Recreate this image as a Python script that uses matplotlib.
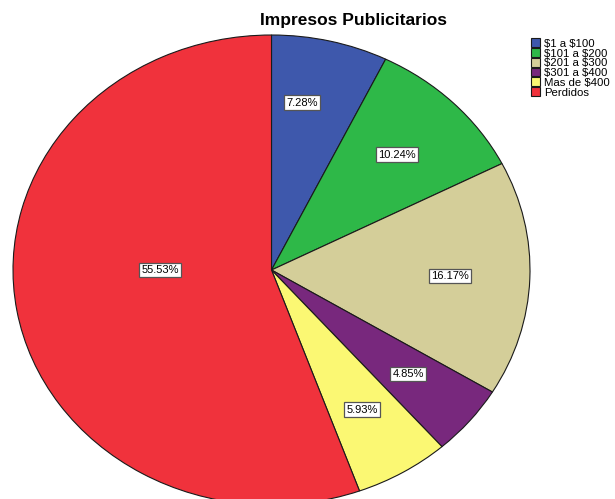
import numpy as np
import matplotlib
matplotlib.use('Agg')
import matplotlib.pyplot as plt

categories = ['$1 a $100', '$101 a $200', '$201 a $300', '$301 a $400',
              'Mas de $400', 'Perdidos']
percents = [7.28, 10.24, 16.17, 4.85, 5.93, 55.53]
colors = ['#3E58AC', '#2EB848', '#D4CE99', '#78287D', '#FBF873', '#F0323C']

W, H = 615, 499
plt.rcParams['font.family'] = ['Liberation Sans', 'DejaVu Sans']
plt.rcParams['text.parse_math'] = False

fig = plt.figure(figsize=(W / 100, H / 100), dpi=100)
ax = fig.add_axes([0, 0, 1, 1])

wedges, texts, autotexts = ax.pie(
    percents, colors=colors, startangle=90, counterclock=False,
    radius=1.0, autopct='%.2f%%', pctdistance=0.69,
    wedgeprops=dict(edgecolor='#1a1a1a', linewidth=0.8),
    textprops=dict(fontsize=8, color='black'),
)

for t in autotexts:
    t.set_bbox(dict(boxstyle='square,pad=0.2', fc='white',
                    ec='#555555', lw=0.9))
# small top slice label sits a bit higher, the largest slice label is pulled in
x0, y0 = autotexts[0].get_position()
autotexts[0].set_position((x0 * 0.75, y0 * 1.06))
autotexts[-1].set_position((-0.43, 0.0))

# pie is drawn stretched: centre (271.5, 270) px, radii 258.5 x 235 px
cx, cy, rx, ry = 271.5, 270.0, 258.5, 235.0
ax.set_aspect('auto')
ax.set_xlim(-cx / rx, (W - cx) / rx)
ax.set_ylim(-(H - cy) / ry, cy / ry)
ax.axis('off')

fig.text(354 / W, 1 - 20 / H, 'Impresos Publicitarios', ha='center',
         va='center', fontsize=12.5, fontweight='bold')

leg = fig.legend(wedges, categories, loc='upper left',
                 bbox_to_anchor=(531 / W, 1 - 38.5 / H), frameon=False,
                 fontsize=8.2, handlelength=0.8, handleheight=0.8,
                 handletextpad=0.35, labelspacing=-0.05, borderpad=0,
                 borderaxespad=0)

fig.savefig('out.png', dpi=100)
